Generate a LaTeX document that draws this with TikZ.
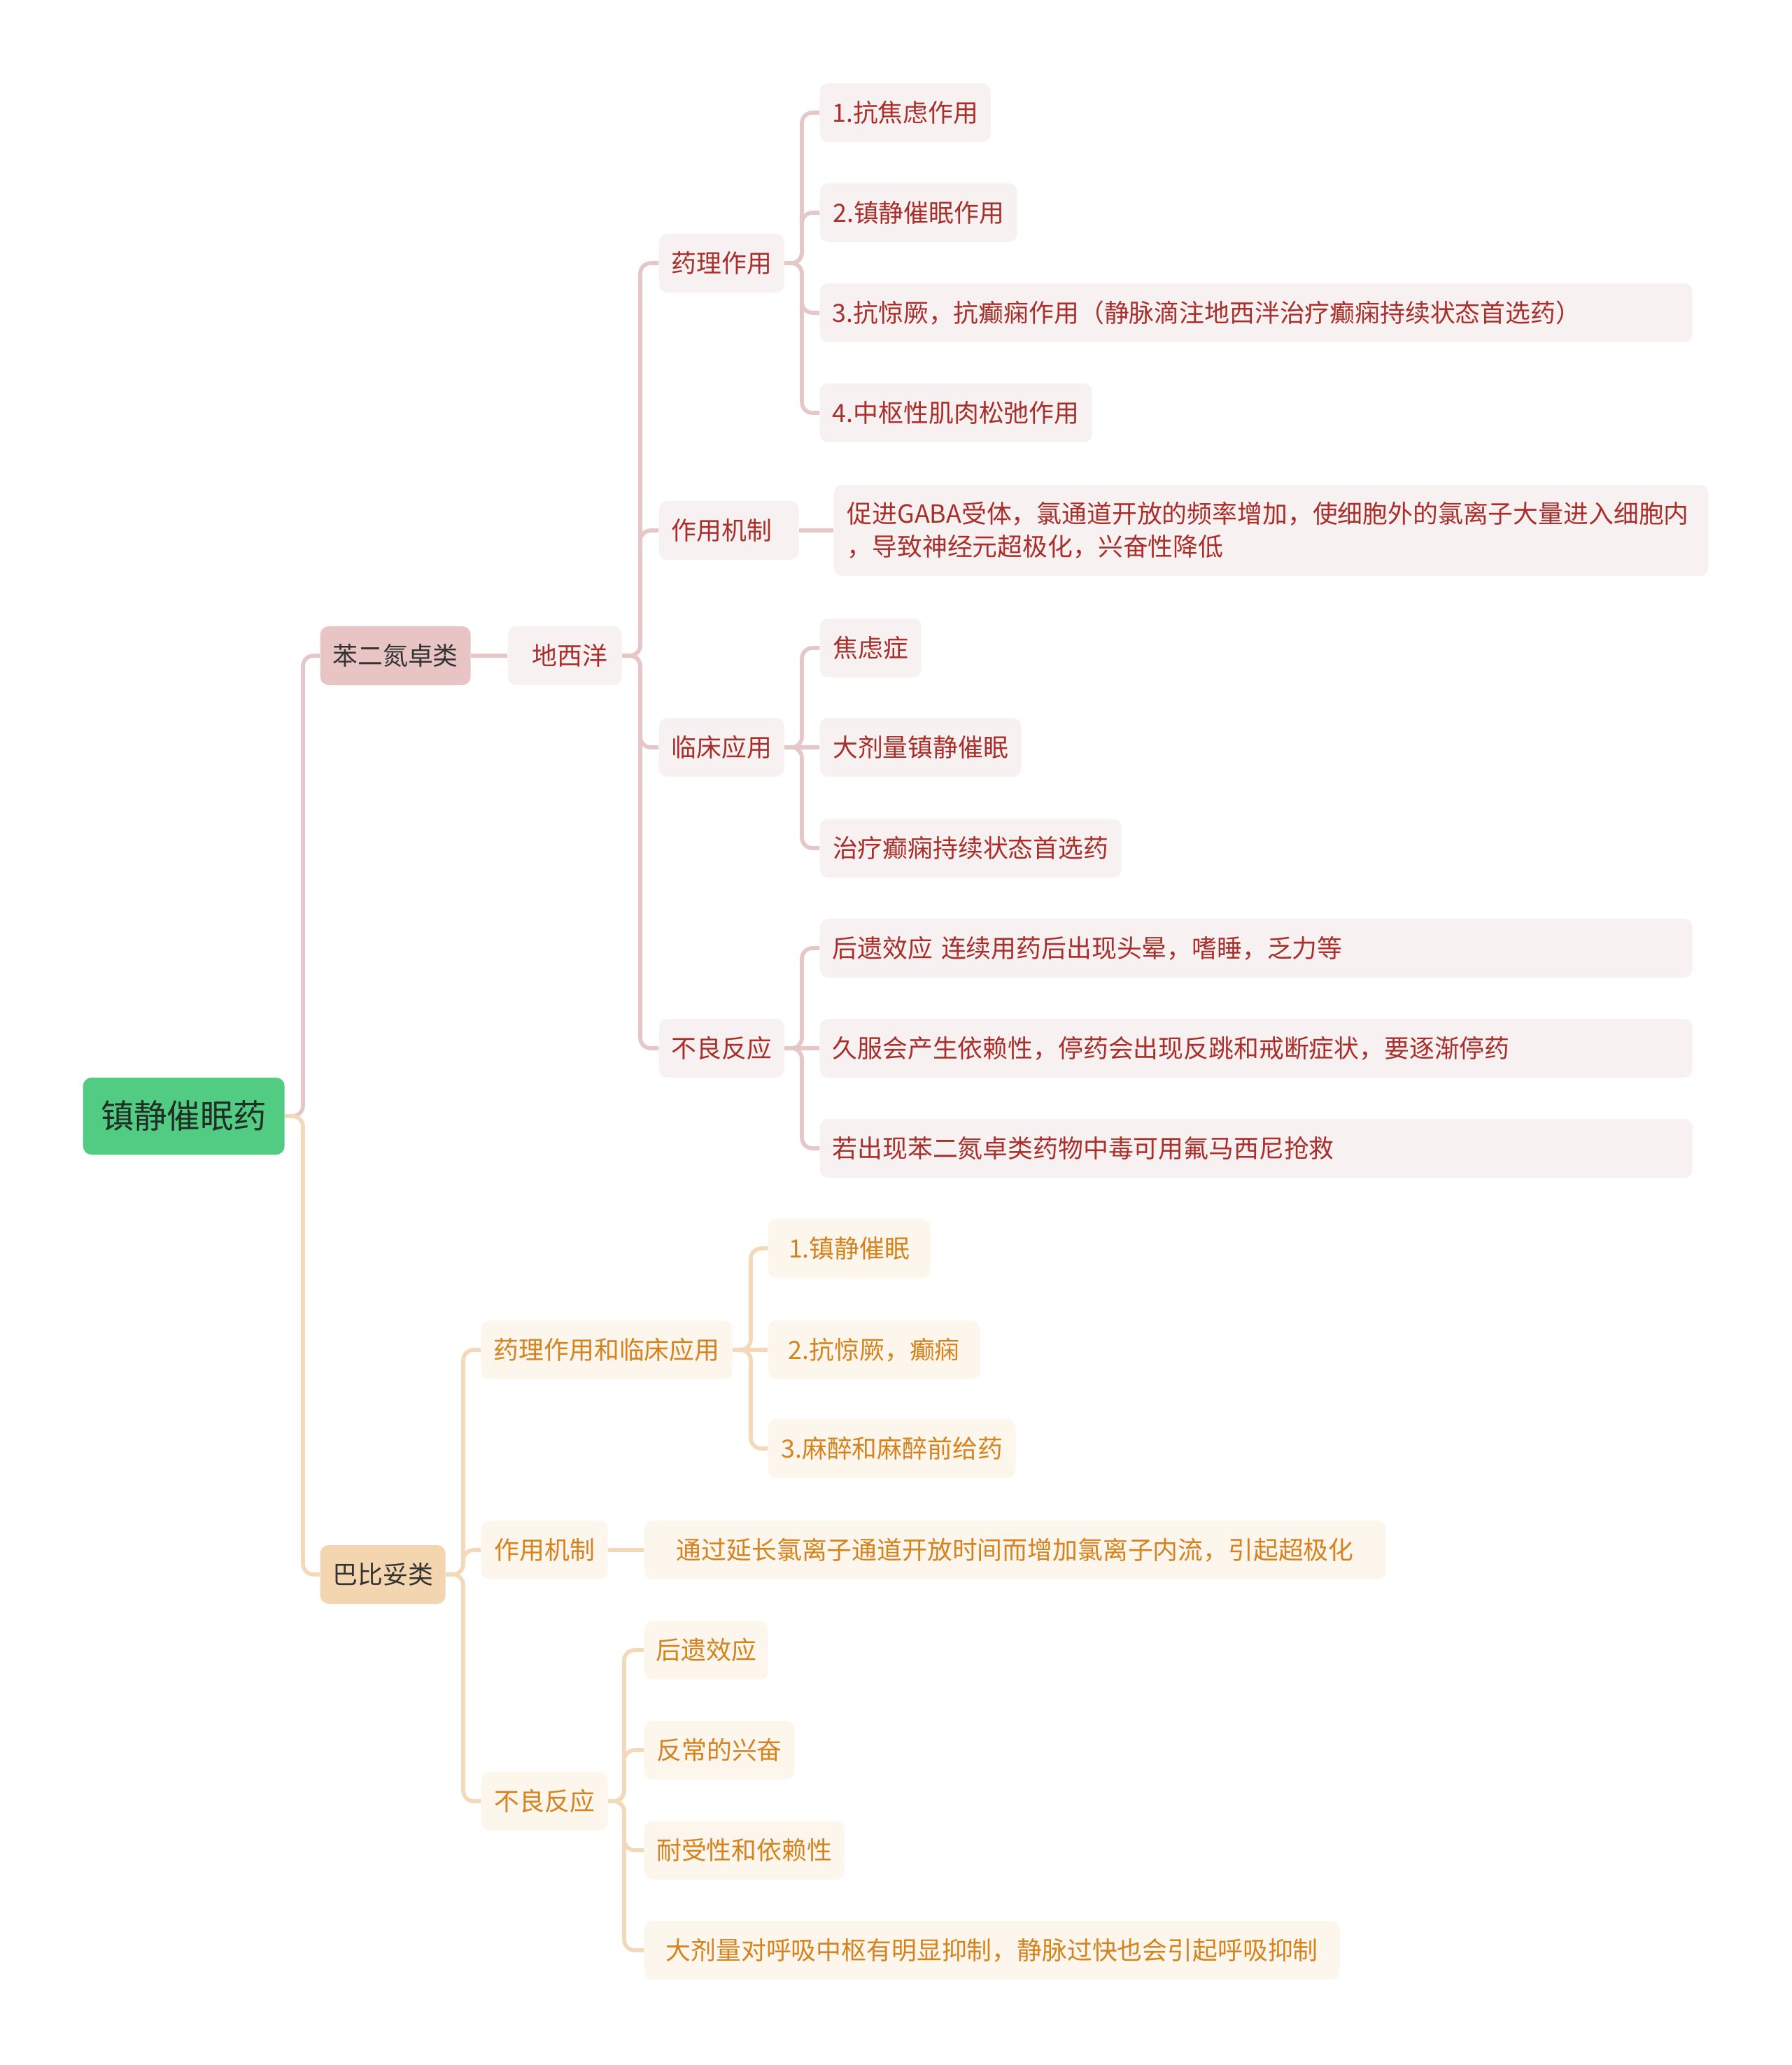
\documentclass[tikz,border=0pt]{standalone}
\usepackage{fontspec}
\setmainfont{Noto Sans CJK SC}
\usepackage{tikz}
\usetikzlibrary{positioning}
\usepackage{xcolor}
\definecolor{rootgreen}{HTML}{52CC83}
\definecolor{roottext}{HTML}{1F2F26}
\definecolor{benzfill}{HTML}{E8C4C4}
\definecolor{barbfill}{HTML}{F3D5B0}
\definecolor{cattext}{HTML}{333333}
\definecolor{redline}{HTML}{E6C6C6}
\definecolor{orgline}{HTML}{F3D9BA}
\definecolor{redtext}{HTML}{A8302C}
\definecolor{orgtext}{HTML}{D4831F}
\definecolor{redleaf}{HTML}{F8F1F1}
\definecolor{orgleaf}{HTML}{FDF6EC}

\begin{document}
\begin{tikzpicture}[
    every node/.style={font=\fontsize{10.2pt}{13.4pt}\selectfont, inner sep=0pt, minimum height=0.84cm, rounded corners=0.12cm, anchor=west},
    rootbox/.style={fill=rootgreen, text=roottext, font=\fontsize{13.5pt}{16pt}\selectfont, minimum height=1.10cm},
    benzbox/.style={fill=benzfill, text=cattext},
    barbbox/.style={fill=barbfill, text=cattext},
    redbox/.style={fill=redleaf, text=redtext},
    orgbox/.style={fill=orgleaf, text=orgtext},
    widebox/.style={text width=12.11cm, align=left, inner xsep=0.18cm},
    redwire/.style={draw=redline, line width=1.6pt, rounded corners=0.15cm},
    orgwire/.style={draw=orgline, line width=1.6pt, rounded corners=0.15cm}
]
    \useasboundingbox (0,0) rectangle (25.6,-29.51);

    % Root and the two drug classes
    \node[rootbox, minimum width=2.88cm] (root) at (1.18,-15.95) {镇静催眠药};
    \node[benzbox, minimum width=2.15cm] (benz) at (4.57,-9.37) {苯二氮卓类};
    \node[barbbox, minimum width=1.79cm] (barb) at (4.57,-22.50) {巴比妥类};

    % Benzodiazepine branch
    \node[redbox, minimum width=1.63cm] (dxy) at (7.25,-9.37) {\hspace{0.15cm}地西洋};
    \node[redbox, minimum width=1.79cm] (yl) at (9.41,-3.76) {药理作用};
    \node[redbox, text width=1.64cm, align=left, inner xsep=0.18cm] (jz) at (9.41,-7.58) {作用机制};
    \node[redbox, minimum width=1.79cm] (lc) at (9.41,-10.68) {临床应用};
    \node[redbox, minimum width=1.79cm] (bl) at (9.41,-14.98) {不良反应};

    \node[redbox, minimum width=2.44cm] (yla) at (11.71,-1.61) {1.抗焦虑作用};
    \node[redbox, minimum width=2.82cm] (ylb) at (11.71,-3.04) {2.镇静催眠作用};
    \node[redbox, widebox] (ylc) at (11.71,-4.47) {3.抗惊厥，抗癫痫作用（静脉滴注地西泮治疗癫痫持续状态首选药）};
    \node[redbox, minimum width=3.89cm] (yld) at (11.71,-5.90) {4.中枢性肌肉松弛作用};

    \node[redbox, text width=12.12cm, align=left, inner xsep=0.19cm, minimum height=1.30cm] (jza) at (11.91,-7.58) {促进GABA受体，氯通道开放的频率增加，使细胞外的氯离子大量进入细胞内\\，导致神经元超极化，兴奋性降低};

    \node[redbox, minimum width=1.45cm] (lca) at (11.71,-9.26) {焦虑症};
    \node[redbox, minimum width=2.88cm] (lcb) at (11.71,-10.68) {大剂量镇静催眠};
    \node[redbox, minimum width=4.31cm] (lcc) at (11.71,-12.12) {治疗癫痫持续状态首选药};

    \node[redbox, widebox] (bla) at (11.71,-13.55) {后遗效应 连续用药后出现头晕，嗜睡，乏力等};
    \node[redbox, widebox] (blb) at (11.71,-14.98) {久服会产生依赖性，停药会出现反跳和戒断症状，要逐渐停药};
    \node[redbox, widebox] (blc) at (11.71,-16.41) {若出现苯二氮卓类药物中毒可用氟马西尼抢救};

    % Barbiturate branch
    \node[orgbox, minimum width=3.59cm] (byl) at (6.87,-19.29) {药理作用和临床应用};
    \node[orgbox, minimum width=1.81cm] (bjz) at (6.87,-22.15) {作用机制};
    \node[orgbox, minimum width=1.81cm] (bbl) at (6.87,-25.74) {不良反应};

    \node[orgbox, minimum width=2.32cm] (byla) at (10.97,-17.84) {1.镇静催眠};
    \node[orgbox, minimum width=3.03cm] (bylb) at (10.97,-19.29) {2.抗惊厥，癫痫};
    \node[orgbox, minimum width=3.54cm] (bylc) at (10.97,-20.70) {3.麻醉和麻醉前给药};

    \node[orgbox, minimum width=10.60cm] (bjza) at (9.20,-22.15) {通过延长氯离子通道开放时间而增加氯离子内流，引起超极化};

    \node[orgbox, minimum width=1.77cm] (bbla) at (9.20,-23.58) {后遗效应};
    \node[orgbox, minimum width=2.15cm] (bblb) at (9.20,-25.01) {反常的兴奋};
    \node[orgbox, minimum width=2.86cm] (bblc) at (9.20,-26.44) {耐受性和依赖性};
    \node[orgbox, minimum width=9.94cm] (bbld) at (9.20,-27.87) {大剂量对呼吸中枢有明显抑制，静脉过快也会引起呼吸抑制};

    % Bus points of the elbow connectors
    \coordinate (rootbus) at (4.33,-15.95);
    \coordinate (dxybus) at (9.15,-9.37);
    \coordinate (ylbus) at (11.46,-3.76);
    \coordinate (lcbus) at (11.46,-10.68);
    \coordinate (blbus) at (11.46,-14.98);
    \coordinate (barbbus) at (6.62,-22.50);
    \coordinate (bylbus) at (10.73,-19.29);
    \coordinate (bblbus) at (8.92,-25.74);

    % Connectors of the benzodiazepine branch
    \draw[redwire] (root.east) -- (rootbus) |- (benz.west);
    \draw[redwire] (benz.east) -- (dxy.west);
    \draw[redwire] (dxy.east) -- (dxybus) |- (yl.west);
    \draw[redwire] (dxy.east) -- (dxybus) |- (jz.west);
    \draw[redwire] (dxy.east) -- (dxybus) |- (lc.west);
    \draw[redwire] (dxy.east) -- (dxybus) |- (bl.west);
    \draw[redwire] (yl.east) -- (ylbus) |- (yla.west);
    \draw[redwire] (yl.east) -- (ylbus) |- (ylb.west);
    \draw[redwire] (yl.east) -- (ylbus) |- (ylc.west);
    \draw[redwire] (yl.east) -- (ylbus) |- (yld.west);
    \draw[redwire] (jz.east) -- (jza.west);
    \draw[redwire] (lc.east) -- (lcbus) |- (lca.west);
    \draw[redwire] (lc.east) -- (lcb.west);
    \draw[redwire] (lc.east) -- (lcbus) |- (lcc.west);
    \draw[redwire] (bl.east) -- (blbus) |- (bla.west);
    \draw[redwire] (bl.east) -- (blb.west);
    \draw[redwire] (bl.east) -- (blbus) |- (blc.west);

    % Connectors of the barbiturate branch
    \draw[orgwire] (root.east) -- (rootbus) |- (barb.west);
    \draw[orgwire] (barb.east) -- (barbbus) |- (byl.west);
    \draw[orgwire] (barb.east) -- (barbbus) |- (bjz.west);
    \draw[orgwire] (barb.east) -- (barbbus) |- (bbl.west);
    \draw[orgwire] (byl.east) -- (bylbus) |- (byla.west);
    \draw[orgwire] (byl.east) -- (bylb.west);
    \draw[orgwire] (byl.east) -- (bylbus) |- (bylc.west);
    \draw[orgwire] (bjz.east) -- (bjza.west);
    \draw[orgwire] (bbl.east) -- (bblbus) |- (bbla.west);
    \draw[orgwire] (bbl.east) -- (bblbus) |- (bblb.west);
    \draw[orgwire] (bbl.east) -- (bblbus) |- (bblc.west);
    \draw[orgwire] (bbl.east) -- (bblbus) |- (bbld.west);
\end{tikzpicture}
\end{document}
